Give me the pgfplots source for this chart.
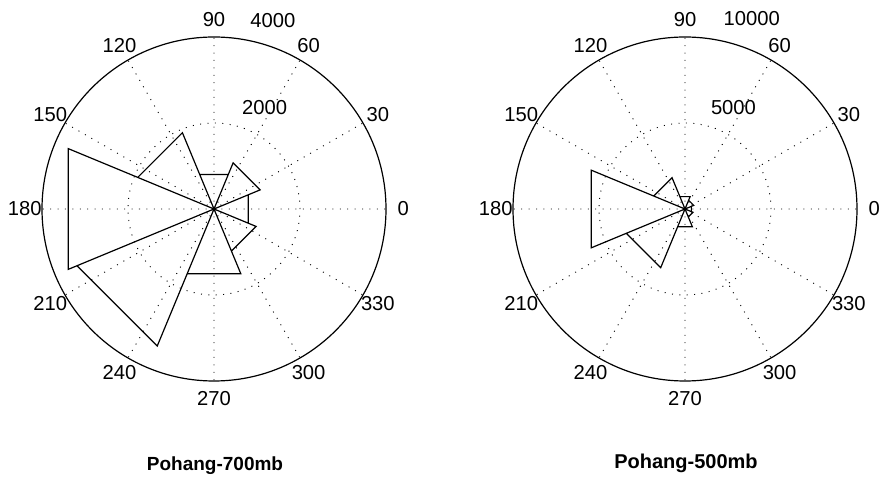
\documentclass[border=0pt]{standalone}
\usepackage{fontspec}
\setmainfont{Liberation Sans}
\usepackage{pgfplots}
\pgfplotsset{compat=1.18}
\usepgfplotslibrary{polar}
\begin{document}
\begin{tikzpicture}
\path[use as bounding box] (0,0) rectangle (440.5pt,245.5pt);
\pgfplotsset{
  roseax/.style={
    anchor=center,
    scale only axis, width=172pt, height=172pt,
    ymin=0,
    xtick={0,30,...,330}, xticklabels={}, yticklabels={},
    scaled y ticks=false,
    grid=major,
    major grid style={black, line width=0.45pt, dash pattern=on 0.5pt off 3.2pt},
    x axis line style={black, line width=0.6pt},
    y axis line style={draw=none},
    major tick length=0pt,
    clip=false,
  },
}
\tikzset{angletxt/.style={font=\fontsize{10.1}{11}\selectfont, inner sep=0pt},
  rose/.style={black, line width=0.6pt, mark=none}}
% ---------------- Pohang-700mb ----------------
\begin{polaraxis}[roseax, at={(107pt,141pt)}, ymax=4000, ytick={2000}]
\addplot[rose] coordinates {
 (0,0) (-22.5,863) (22.5,863) (0,0)
 (22.5,1160) (67.5,1160) (0,0)
 (67.5,870) (112.5,870) (0,0)
 (112.5,1920) (157.5,1920) (0,0)
 (157.5,3670) (202.5,3670) (0,0)
 (202.5,3450) (247.5,3450) (0,0)
 (247.5,1630) (292.5,1630) (0,0)
 (292.5,1060) (337.5,1060) (0,0)
};
\foreach \a in {0,30,...,330} {
  \edef\temp{\noexpand\node[angletxt] at (axis cs:\a,4400) {\a};}
  \temp
}
\end{polaraxis}
% ---------------- Pohang-500mb ----------------
\begin{polaraxis}[roseax, at={(342.5pt,141pt)}, ymax=10000, ytick={5000}]
\addplot[rose] coordinates {
 (0,0) (-22.5,400) (22.5,400) (0,0)
 (22.5,550) (67.5,550) (0,0)
 (67.5,780) (112.5,780) (0,0)
 (112.5,1970) (157.5,1970) (0,0)
 (157.5,5900) (202.5,5900) (0,0)
 (202.5,3690) (247.5,3690) (0,0)
 (247.5,1120) (292.5,1120) (0,0)
 (292.5,500) (337.5,500) (0,0)
};
\foreach \a in {0,30,...,330} {
  \edef\temp{\noexpand\node[angletxt] at (axis cs:\a,11000) {\a};}
  \temp
}
\end{polaraxis}
% ring labels
\node[angletxt, anchor=south west] at (125pt,231.4pt) {4000};
\node[angletxt, anchor=south west] at (120.9pt,188pt) {2000};
\node[angletxt, anchor=south west] at (361.6pt,232.2pt) {10000};
\node[angletxt, anchor=south west] at (355.3pt,188pt) {5000};
\node[font=\bfseries\fontsize{9.5}{11}\selectfont] at (107.5pt,12.5pt) {Pohang-700mb};
\node[font=\bfseries\fontsize{10}{11}\selectfont] at (343pt,14pt) {Pohang-500mb};
\end{tikzpicture}
\end{document}
